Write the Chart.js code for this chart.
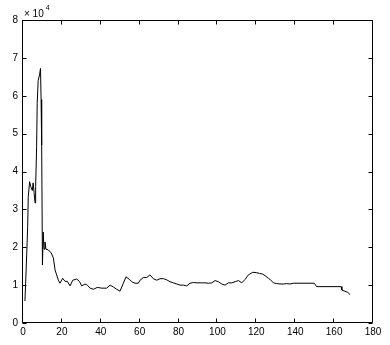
<!DOCTYPE html>
<html>
<head>
<meta charset="utf-8">
<script src="https://cdn.jsdelivr.net/npm/chart.js@4/dist/chart.umd.min.js"></script>
<style>
  html, body { margin: 0; padding: 0; background: #fff; }
  #wrap { width: 390px; height: 345px; position: relative; }
</style>
</head>
<body>
<div id="wrap"><canvas id="c"></canvas></div>
<script>
// Sample index (x) and values (in units of 10^4)
const xValues = [
  1.0, 1.9, 2.4, 2.7, 3.4, 4.0, 4.8, 5.2, 5.7, 6.2, 6.5, 7.0, 7.3, 7.8, 8.5, 9.0, 9.3, 9.6,
  10.0, 10.4, 10.8, 11.3, 11.8, 13.0, 14.5, 15.6, 16.5, 17.3, 18.2, 19.0, 20.4, 21.6, 22.8,
  24.2, 25.6, 27.6, 29.0, 30.2, 31.9, 33.1, 34.5, 36.2, 38.2, 40.5, 43.0, 44.8, 46.5, 48.2,
  49.9, 51.6, 53.0, 54.7, 55.9, 57.6, 59.3, 60.2, 61.9, 63.6, 65.3, 67.0, 68.8, 70.5, 72.2,
  73.9, 75.6, 77.3, 79.1, 80.8, 82.5, 84.2, 85.9, 87.6, 89.5, 91.9, 93.6, 95.3, 97.1, 98.8,
  100.5, 102.2, 103.9, 105.6, 107.4, 109.1, 110.8, 112.5, 114.2, 115.9, 118.2, 119.9, 121.6,
  123.3, 124.5, 126.2, 127.1, 128.8, 130.5, 132.2, 133.9, 135.6, 137.3, 139.0, 149.8, 151.0,
  163.6, 164.0, 167.0, 168.2
];
const yValues = [
  0.58, 1.8, 2.54, 3.33, 3.73, 3.6, 3.5, 3.7, 3.45, 3.17, 3.6, 4.65, 5.8, 6.4, 6.55, 6.72, 5.9, 4.7,
  1.53, 2.4, 1.95, 2.14, 1.95, 1.93, 1.85, 1.72, 1.4, 1.27, 1.13, 1.05, 1.18, 1.1, 1.1,
  0.98, 1.13, 1.16, 1.1, 0.98, 1.03, 1.0, 0.92, 0.89, 0.94, 0.92, 0.92, 1.0, 0.95, 0.89,
  0.84, 1.05, 1.22, 1.15, 1.09, 1.05, 1.05, 1.13, 1.2, 1.2, 1.27, 1.17, 1.13, 1.17, 1.17,
  1.14, 1.09, 1.06, 1.03, 1.0, 1.0, 0.98, 1.05, 1.07, 1.06, 1.06, 1.06, 1.05, 1.06, 1.12,
  1.09, 1.03, 1.0, 1.06, 1.06, 1.09, 1.12, 1.06, 1.15, 1.27, 1.34, 1.33, 1.31,
  1.29, 1.25, 1.18, 1.15, 1.06, 1.04, 1.03, 1.03, 1.04, 1.03, 1.05, 1.05, 0.96,
  0.96, 0.87, 0.81, 0.75
];
const xTicks = [0, 20, 40, 60, 80, 100, 120, 140, 160, 180];
const yTicks = [0, 1, 2, 3, 4, 5, 6, 7, 8];
const exponentLabel = '× 10';
const exponentPower = '4';

const points = xValues.map((x, i) => ({ x: x, y: yValues[i] }));
const FONT = '"Liberation Sans Narrow", "Liberation Sans", Arial, sans-serif';

const boxPlugin = {
  id: 'matlabBox',
  afterDraw(chart) {
    const ctx = chart.ctx;
    const ca = chart.chartArea;
    const xs = chart.scales.x, ys = chart.scales.y;
    const L = Math.round(ca.left) - 0.5, R = Math.round(ca.right) - 0.5;
    const T = Math.round(ca.top) + 0.5, B = Math.round(ca.bottom) - 0.5;
    ctx.save();
    ctx.strokeStyle = '#000';
    ctx.lineWidth = 1;
    ctx.beginPath();
    ctx.rect(L, T, R - L, B - T);
    const tl = 4;
    xTicks.forEach(v => {
      const px = Math.round(xs.getPixelForValue(v)) - 0.5;
      ctx.moveTo(px, B); ctx.lineTo(px, B - tl);
      ctx.moveTo(px, T); ctx.lineTo(px, T + tl);
    });
    yTicks.forEach(v => {
      const py = Math.round(ys.getPixelForValue(v)) + 0.5;
      ctx.moveTo(L, py); ctx.lineTo(L + tl, py);
      ctx.moveTo(R, py); ctx.lineTo(R - tl, py);
    });
    ctx.stroke();
    ctx.fillStyle = '#000';
    ctx.textBaseline = 'alphabetic';
    ctx.textAlign = 'left';
    ctx.font = '10px ' + FONT;
    ctx.fillText(exponentLabel, Math.round(ca.left) + 1, Math.round(ca.top) - 3);
    const w = ctx.measureText(exponentLabel).width;
    ctx.font = '7px ' + FONT;
    ctx.fillText(exponentPower, Math.round(ca.left) + 3 + w, Math.round(ca.top) - 10);
    ctx.restore();
  }
};

new Chart(document.getElementById('c'), {
  type: 'line',
  data: {
    datasets: [{
      data: points,
      borderColor: '#000',
      borderWidth: 1,
      pointRadius: 0,
      tension: 0,
      fill: false
    }]
  },
  options: {
    responsive: true,
    maintainAspectRatio: false,
    animation: false,
    events: [],
    layout: { padding: { top: 20, right: 17, left: 0, bottom: 0 } },
    plugins: { legend: { display: false }, tooltip: { enabled: false } },
    scales: {
      x: {
        type: 'linear',
        min: 0, max: 180,
        afterFit(s) { s.height = 22; },
        afterBuildTicks(s) { s.ticks = xTicks.map(v => ({ value: v })); },
        grid: { display: false, drawTicks: false },
        border: { display: false },
        ticks: { color: '#000', padding: 3, maxRotation: 0, autoSkip: false, font: { family: FONT, size: 10 } }
      },
      y: {
        type: 'linear',
        min: 0, max: 8,
        afterFit(s) { s.width = 23; },
        afterBuildTicks(s) { s.ticks = yTicks.map(v => ({ value: v })); },
        grid: { display: false, drawTicks: false },
        border: { display: false },
        ticks: { color: '#000', padding: 5, autoSkip: false, font: { family: FONT, size: 10 } }
      }
    }
  },
  plugins: [boxPlugin]
});
</script>
</body>
</html>
